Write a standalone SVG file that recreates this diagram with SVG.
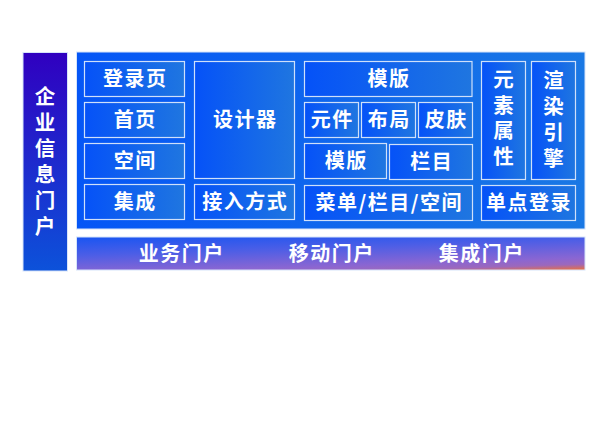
<svg xmlns="http://www.w3.org/2000/svg" width="605" height="428" viewBox="0 0 605 428">
<defs>
<linearGradient id="gBox" x1="0" y1="0" x2="1" y2="0">
<stop offset="0" stop-color="#0552f8"/>
<stop offset="1" stop-color="#1f76e0"/>
</linearGradient>
<linearGradient id="gPanel" x1="0" y1="0" x2="1" y2="0">
<stop offset="0" stop-color="#0556f6"/>
<stop offset="1" stop-color="#1a78e4"/>
</linearGradient>
<linearGradient id="gLeft" x1="0" y1="0" x2="0" y2="1">
<stop offset="0" stop-color="#3000c0"/>
<stop offset="1" stop-color="#0c52da"/>
</linearGradient>
<linearGradient id="gBottom" gradientUnits="userSpaceOnUse" x1="76" y1="237" x2="78" y2="299">
<stop offset="0" stop-color="#1855f2"/>
<stop offset="0.3" stop-color="#4c5ee6"/>
<stop offset="0.6" stop-color="#8a66d2"/>
<stop offset="0.7" stop-color="#9c68bc"/>
<stop offset="0.8" stop-color="#f07034"/>
</linearGradient>
</defs>
<style>
.box{fill:url(#gBox);stroke:#cfe0fa;stroke-width:1.2}
.t{font-family:"Noto Sans CJK SC","Noto Sans",sans-serif;font-weight:bold;font-size:20px;letter-spacing:1.5px;fill:#ffffff;text-anchor:middle}
.v{font-family:"Noto Sans CJK SC","Noto Sans",sans-serif;font-weight:bold;font-size:20.5px;fill:#ffffff;text-anchor:middle}
</style>
<rect width="605" height="428" fill="#ffffff"/>
<g id="left-bar">
<rect x="23" y="52.5" width="44.5" height="218.5" fill="url(#gLeft)" stroke="#d6e4fa" stroke-width="1"/>
<text class="v" x="45" y="104">企</text>
<text class="v" x="45" y="130">业</text>
<text class="v" x="45" y="156">信</text>
<text class="v" x="45" y="182">息</text>
<text class="v" x="45" y="208">门</text>
<text class="v" x="45" y="234">户</text>
</g>
<g id="panel">
<rect x="76.5" y="52" width="508.5" height="177" fill="url(#gPanel)" stroke="#d6e4fa" stroke-width="1"/>
</g>
<g id="bottom-bar">
<rect x="76.5" y="237" width="508.5" height="33" fill="url(#gBottom)" stroke="#d6e4fa" stroke-width="1"/>
<text class="t" x="181.8" y="260.5">业务门户</text>
<text class="t" x="331.8" y="260.5">移动门户</text>
<text class="t" x="481.8" y="260.5">集成门户</text>
</g>
<g id="n-login"><rect class="box" x="84.5" y="61.5" width="100" height="35"/><text class="t" x="135.3" y="86">登录页</text></g>
<g id="n-home"><rect class="box" x="84.5" y="102.5" width="100" height="35"/><text class="t" x="135.3" y="127">首页</text></g>
<g id="n-space"><rect class="box" x="84.5" y="143.5" width="100" height="35"/><text class="t" x="135.3" y="168">空间</text></g>
<g id="n-integ"><rect class="box" x="84.5" y="184.5" width="100" height="35"/><text class="t" x="135.3" y="209">集成</text></g>
<g id="n-designer"><rect class="box" x="194.5" y="61.5" width="100" height="117"/><text class="t" x="245.3" y="127">设计器</text></g>
<g id="n-access"><rect class="box" x="194.5" y="184.5" width="100" height="35"/><text class="t" x="245.3" y="209">接入方式</text></g>
<g id="n-template"><rect class="box" x="304.5" y="61.5" width="167.5" height="35"/><text class="t" x="389" y="86">模版</text></g>
<g id="n-element"><rect class="box" x="304.5" y="102.5" width="54" height="35"/><text class="t" x="332.3" y="127">元件</text></g>
<g id="n-layout"><rect class="box" x="361.5" y="102.5" width="54" height="35"/><text class="t" x="389.3" y="127">布局</text></g>
<g id="n-skin"><rect class="box" x="418.5" y="102.5" width="54" height="35"/><text class="t" x="446.3" y="127">皮肤</text></g>
<g id="n-template2"><rect class="box" x="304.5" y="143.5" width="82" height="35"/><text class="t" x="346.3" y="168">模版</text></g>
<g id="n-column"><rect class="box" x="389.5" y="144.5" width="83" height="35"/><text class="t" x="431.8" y="169">栏目</text></g>
<g id="n-menu"><rect class="box" x="304.5" y="185.5" width="168" height="35"/><text class="t" x="389.3" y="210">菜单/栏目/空间</text></g>
<g id="n-attr"><rect class="box" x="481.5" y="61.5" width="44" height="118"/>
<text class="v" x="503.5" y="87">元</text>
<text class="v" x="503.5" y="112.5">素</text>
<text class="v" x="503.5" y="138">属</text>
<text class="v" x="503.5" y="163.5">性</text></g>
<g id="n-render"><rect class="box" x="531.5" y="61.5" width="44" height="118"/>
<text class="v" x="553.5" y="87.5">渲</text>
<text class="v" x="553.5" y="113.5">染</text>
<text class="v" x="553.5" y="139.5">引</text>
<text class="v" x="553.5" y="165.5">擎</text></g>
<g id="n-sso"><rect class="box" x="481.5" y="185.5" width="94" height="35"/><text class="t" x="529" y="210">单点登录</text></g>
<g id="connectors"></g>
</svg>
